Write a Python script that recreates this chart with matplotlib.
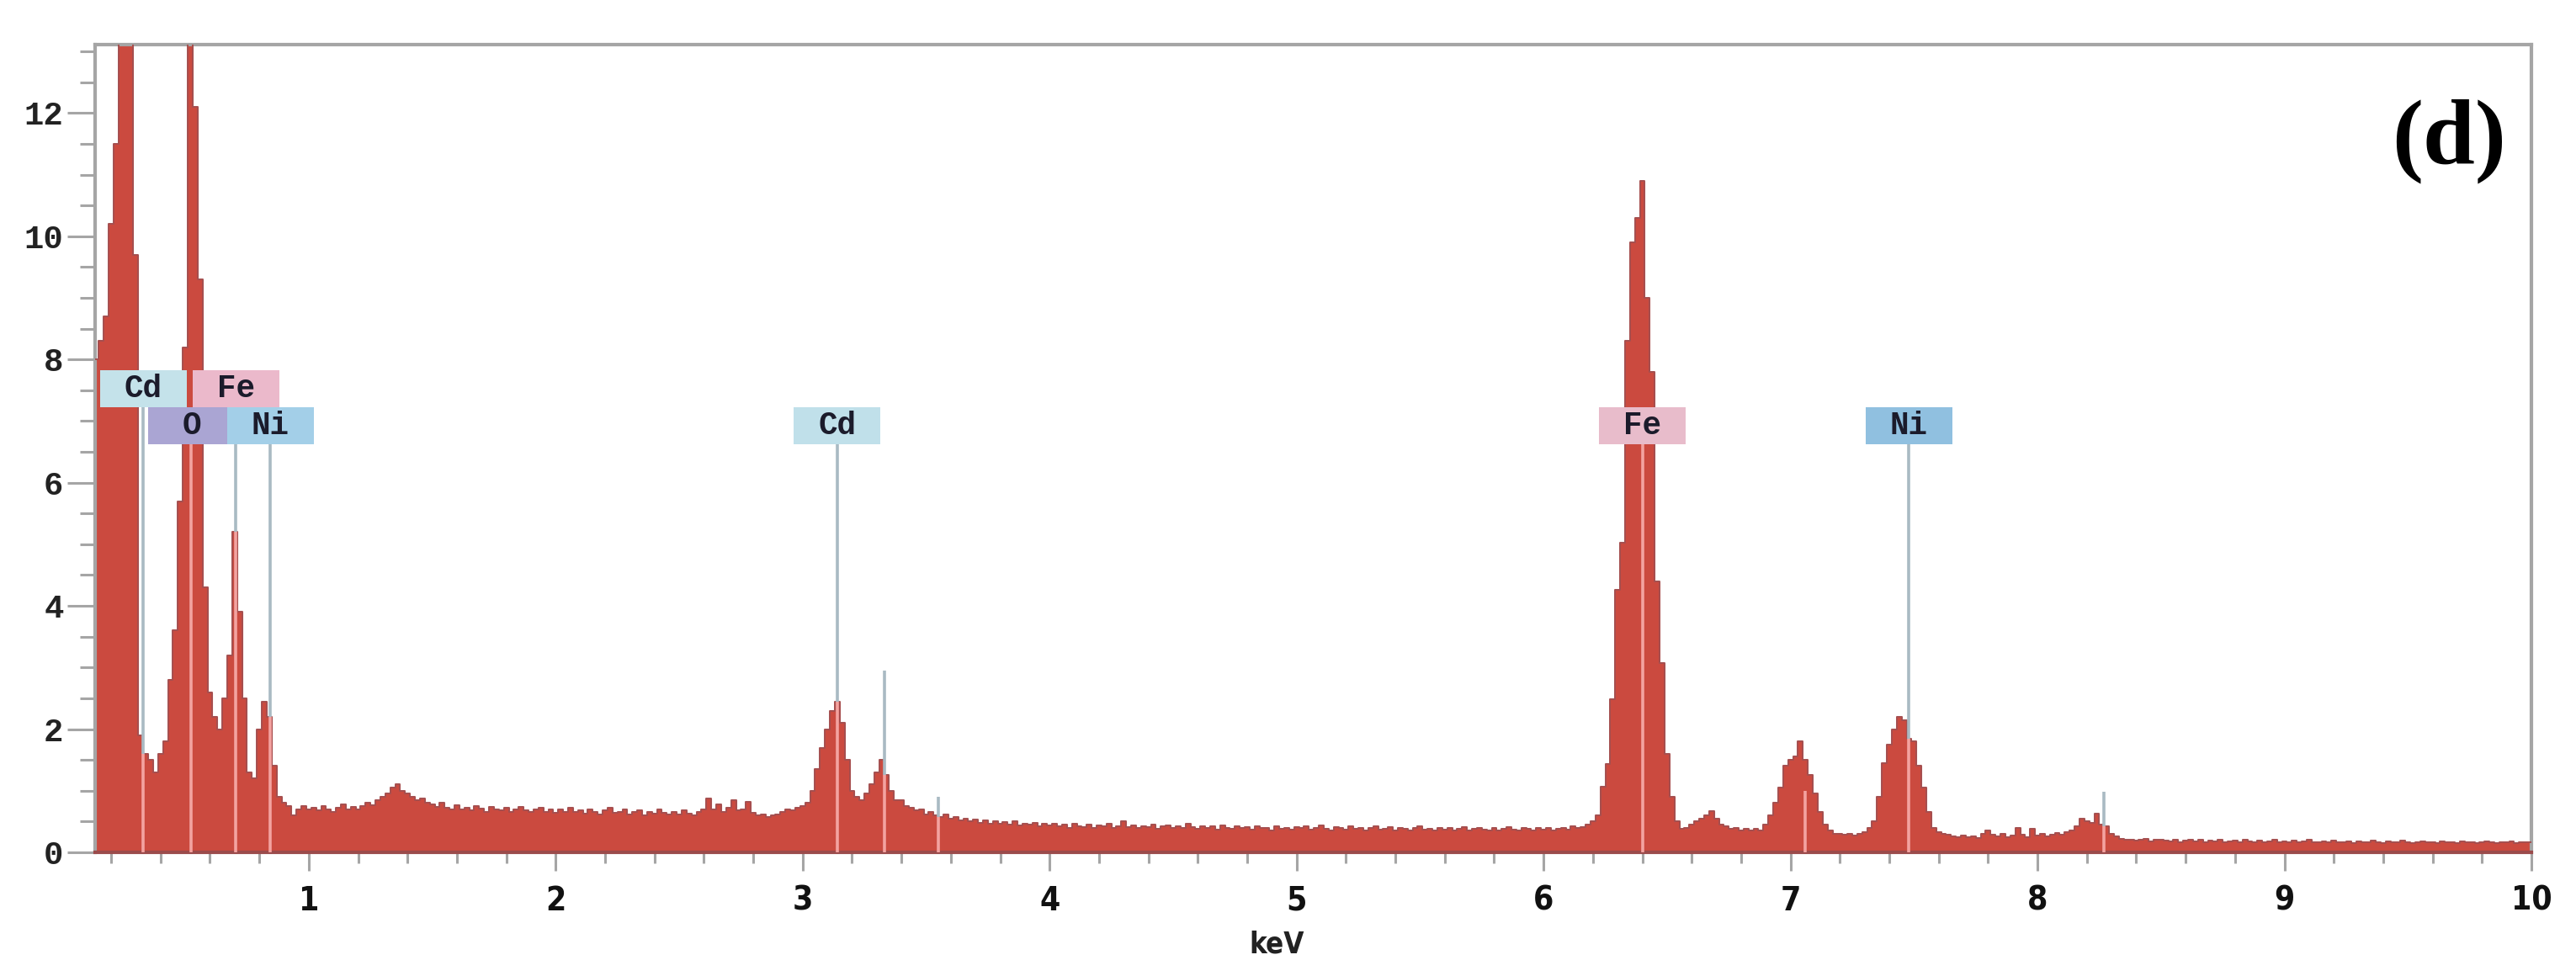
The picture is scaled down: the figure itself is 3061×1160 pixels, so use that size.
import numpy as np
import matplotlib

matplotlib.use("Agg")
import matplotlib.pyplot as plt
from matplotlib.patches import Rectangle
from matplotlib import font_manager

STEP = 0.02  # keV per channel

# channel heights, one list per energy range (start = left edge, keV)
start_low = 0.13
counts_low = [
    8.0, 8.3, 8.7, 10.2, 11.5, 16.0, 16.0, 16.0, 9.7, 1.9,
    1.6, 1.5, 1.3, 1.6, 1.8, 2.8, 3.6, 5.7, 8.2, 16.0,
    12.1, 9.3, 4.3, 2.6, 2.2, 2.0, 2.5, 3.2, 5.2, 3.9,
    2.5, 1.3, 1.2, 2.0, 2.45, 2.2, 1.4, 0.9, 0.8, 0.75,
    0.6, 0.7, 0.75, 0.7,
]

start_mid = 1.01
counts_mid = [
    0.72, 0.68, 0.75, 0.7, 0.66, 0.73, 0.78, 0.7, 0.74, 0.69,
    0.75, 0.8, 0.77, 0.85, 0.9, 0.95, 1.05, 1.1, 1.0, 0.95,
    0.9, 0.85, 0.88, 0.8, 0.78, 0.74, 0.8, 0.72, 0.7, 0.76,
    0.7, 0.73, 0.68, 0.75, 0.71, 0.66, 0.74, 0.7, 0.68, 0.72,
    0.66, 0.7, 0.74, 0.68, 0.65, 0.7, 0.72, 0.66, 0.69, 0.64,
    0.7, 0.66, 0.72, 0.65, 0.68, 0.63, 0.7, 0.66, 0.62, 0.68,
    0.72, 0.64, 0.66, 0.7, 0.62, 0.65, 0.68, 0.6, 0.66, 0.63,
    0.7, 0.64, 0.61, 0.66, 0.62, 0.68, 0.63, 0.6, 0.65, 0.7,
    0.88, 0.7, 0.78, 0.66, 0.72, 0.85, 0.68, 0.7, 0.82, 0.64,
    0.6, 0.62, 0.58, 0.6, 0.62, 0.66, 0.7, 0.68, 0.72, 0.75,
]

start_cd = 3.01
counts_cd = [
    0.8, 1.0, 1.35, 1.7, 2.0, 2.3, 2.45, 2.1, 1.5, 1.0,
    0.9, 0.85, 0.95, 1.1, 1.3, 1.5, 1.25, 1.0, 0.85, 0.85,
    0.75, 0.72, 0.68, 0.7, 0.62, 0.65, 0.6, 0.58, 0.62, 0.55,
    0.57, 0.52, 0.55, 0.5, 0.53, 0.48, 0.52, 0.47, 0.5, 0.46,
    0.49, 0.45, 0.5, 0.44, 0.47, 0.45, 0.48, 0.43, 0.46, 0.44,
]

start_bg = 4.01
counts_bg = [
    0.46, 0.42, 0.45, 0.4, 0.47, 0.43, 0.41, 0.45, 0.39, 0.44,
    0.42, 0.46, 0.4, 0.43, 0.5, 0.41, 0.44, 0.39, 0.43, 0.41,
    0.45, 0.38, 0.42, 0.44, 0.4, 0.43, 0.39, 0.46, 0.41, 0.38,
    0.43, 0.4, 0.42, 0.37, 0.44, 0.4, 0.38, 0.42, 0.39, 0.41,
    0.37, 0.43, 0.39, 0.4, 0.36, 0.42, 0.38, 0.4, 0.37, 0.41,
    0.39, 0.42, 0.37, 0.4, 0.44, 0.38, 0.36, 0.41, 0.39, 0.37,
    0.42, 0.38, 0.4, 0.36, 0.39, 0.43, 0.37, 0.38, 0.41, 0.36,
    0.4, 0.38, 0.35, 0.39, 0.42, 0.37, 0.38, 0.36, 0.4, 0.37,
    0.39, 0.35, 0.38, 0.41, 0.36, 0.38, 0.4, 0.37, 0.35, 0.39,
    0.36, 0.38, 0.41, 0.37, 0.36, 0.39, 0.38, 0.35, 0.4, 0.37,
    0.39, 0.36, 0.38, 0.4, 0.37, 0.42, 0.39, 0.41, 0.45, 0.5,
]

start_fe = 6.21
counts_fe = [
    0.6, 1.07, 1.44, 2.48, 4.26, 5.03, 8.3, 9.9, 10.3, 10.9,
    9.0, 7.8, 4.4, 3.07, 1.6, 0.9, 0.5, 0.38, 0.4, 0.45,
    0.5, 0.55, 0.6, 0.67, 0.55, 0.45, 0.42, 0.38, 0.4, 0.36,
    0.38, 0.35, 0.38, 0.36, 0.45, 0.6, 0.8, 1.05, 1.4, 1.5,
    1.55, 1.8, 1.5, 1.25, 0.95, 0.65, 0.45, 0.35, 0.3, 0.3,
    0.28, 0.3, 0.27, 0.3, 0.33, 0.4, 0.5, 0.9, 1.45, 1.75,
    2.0, 2.2, 2.15, 1.85, 1.8, 1.4, 1.05, 0.65, 0.4, 0.33,
]

start_tail = 7.61
counts_tail = [
    0.3, 0.28, 0.26, 0.25, 0.27, 0.24, 0.26, 0.23, 0.3, 0.36,
    0.28, 0.26, 0.3, 0.25, 0.27, 0.4, 0.28, 0.25, 0.38, 0.27,
    0.3, 0.26, 0.28, 0.32, 0.29, 0.33, 0.36, 0.42, 0.55, 0.5,
    0.48, 0.63, 0.45, 0.43, 0.3, 0.26,
]

start_end = 8.33
counts_end = [
    0.22, 0.2, 0.21, 0.19, 0.2, 0.22, 0.18, 0.2, 0.21, 0.19,
    0.18, 0.2, 0.17, 0.19, 0.21, 0.18, 0.2, 0.17, 0.19, 0.18,
    0.2, 0.16, 0.18, 0.19, 0.17, 0.2, 0.18, 0.16, 0.19, 0.17,
    0.18, 0.2, 0.16, 0.18, 0.17, 0.19, 0.16, 0.18, 0.2, 0.17,
    0.16, 0.18, 0.17, 0.19, 0.16, 0.17, 0.18, 0.15, 0.18, 0.17,
    0.16, 0.19, 0.17, 0.15, 0.18, 0.16, 0.17, 0.19, 0.16, 0.15,
    0.17, 0.18, 0.16, 0.17, 0.15, 0.18, 0.16, 0.17, 0.15, 0.18,
    0.16, 0.17, 0.15, 0.16, 0.18, 0.16, 0.15, 0.17, 0.16, 0.18,
    0.15, 0.17, 0.16, 0.17,
]

# element labels: name, line energy (keV), label row (0 lower, 1 upper), box colour
label_text = ["Cd", "Fe", "O", "Ni", "Cd", "Fe", "Ni"]
label_kev = [0.33, 0.705, 0.525, 0.845, 3.14, 6.40, 7.48]
label_row = [1, 1, 0, 0, 0, 0, 0]
label_color = ["#c4e2ea", "#ebb9cb", "#aaa5d3", "#a3cfe8", "#c0e0ea", "#e8bccb", "#90c0e0"]

# unlabelled marker lines: energy, height
extra_kev = [3.33, 3.55, 7.06, 8.27]
extra_top = [2.95, 0.9, 1.0, 0.98]

segments = [
    (start_low, counts_low), (start_mid, counts_mid), (start_cd, counts_cd),
    (start_bg, counts_bg), (start_fe, counts_fe), (start_tail, counts_tail),
    (start_end, counts_end),
]
left = np.concatenate([s + STEP * np.arange(len(c)) for s, c in segments])
vals = np.concatenate([np.asarray(c, dtype=float) for _, c in segments])

FILL = "#cb4a3f"
EDGE = "#a54f4f"
GRAY = "#a5a5a5"

installed = {f.name for f in font_manager.fontManager.ttflist}
narrow = [f for f in ["Liberation Sans Narrow", "DejaVu Sans"] if f in installed]

fig = plt.figure(figsize=(30.61, 11.60), dpi=100)
ax = fig.add_axes([113 / 3061, 1 - 1013 / 1160, (3008 - 113) / 3061, (1013 - 53) / 1160])

ax.bar(left, vals, width=STEP, align="edge", color=FILL, edgecolor=FILL,
       linewidth=0.8, zorder=2)
ax.step(np.append(left, left[-1] + STEP), np.append(vals, vals[-1]),
        where="post", color=EDGE, lw=1.4, zorder=3)


def height_at(e):
    i = np.searchsorted(left, e, side="right") - 1
    return vals[i]


def marker(e, top):
    h = min(height_at(e), top)
    ax.plot([e, e], [0, h], color="#f3a3a0", lw=2.6, zorder=4, solid_capstyle="butt")
    if top > h:
        ax.plot([e, e], [h, top], color="#a9bac3", lw=2.6, zorder=4, solid_capstyle="butt")


BOX_W = 0.35
BOX_H = 0.6
ROW_Y = 6.62
for name, e, row, col in zip(label_text, label_kev, label_row, label_color):
    y0 = ROW_Y + row * BOX_H
    marker(e, y0)
    ax.add_patch(Rectangle((e - BOX_W / 2, y0), BOX_W, BOX_H, facecolor=col,
                           edgecolor="none", zorder=6))
    ax.text(e, y0 + BOX_H / 2, name, ha="center", va="center", fontsize=27,
            fontweight="bold", family=["Liberation Mono", "DejaVu Sans Mono"],
            color="#1b1b2b", zorder=7)

for e, top in zip(extra_kev, extra_top):
    marker(e, top)

ax.set_xlim(0.135, 10.0)
ax.set_ylim(0, 13.11)

ax.set_xticks(np.arange(1, 11))
ax.set_xticks(np.arange(0.2, 10.01, 0.2), minor=True)
ax.set_yticks(np.arange(0, 13, 2))
ax.set_yticks(np.arange(0, 13.1, 0.5), minor=True)

ax.tick_params(axis="x", which="major", length=16, width=2.2, color=GRAY, pad=12,
               labelsize=28)
ax.tick_params(axis="x", which="minor", length=9, width=2.2, color=GRAY)
ax.tick_params(axis="y", which="major", length=24, width=2.2, color=GRAY, pad=3,
               labelsize=28)
ax.tick_params(axis="y", which="minor", length=13, width=2.2, color=GRAY)

for lab in ax.get_xticklabels():
    lab.set_family(narrow)
    lab.set_fontstretch("condensed")
    lab.set_fontweight("bold")
    lab.set_color("#111111")
for lab in ax.get_yticklabels():
    lab.set_family(["Liberation Mono", "DejaVu Sans Mono"])
    lab.set_fontweight("bold")
    lab.set_color("#222222")

for side in ["left", "top", "right"]:
    ax.spines[side].set_color(GRAY)
    ax.spines[side].set_linewidth(3)
ax.spines["bottom"].set_color("#9b4b4b")
ax.spines["bottom"].set_linewidth(3)

ax.text(4.92, -1.5, "keV", ha="center", va="center", fontsize=25, fontweight="bold",
        family=narrow, fontstretch="condensed", color="#222222")

ax.text(0.966, 0.88, "(d)", transform=ax.transAxes, ha="center", va="center",
        fontsize=80, fontweight="bold", family=["Liberation Serif", "DejaVu Serif"],
        color="black")

fig.savefig("out.png", dpi=100, facecolor="white")
